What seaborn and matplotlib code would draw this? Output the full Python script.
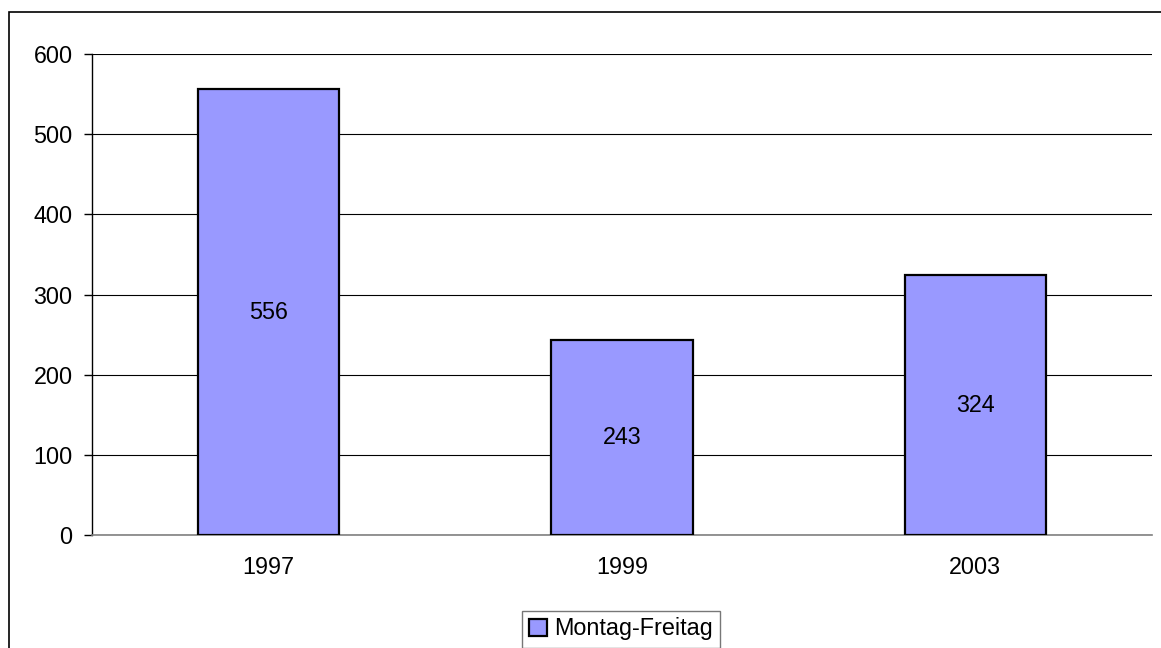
import matplotlib
matplotlib.use("Agg")
import matplotlib.pyplot as plt
import seaborn as sns
import pandas as pd
from matplotlib.patches import Rectangle, Patch

# Daten
jahre = ["1997", "1999", "2003"]
werte = [556, 243, 324]
serie = "Montag-Freitag"

FARBE_BALKEN = "#9999FF"
SCHRIFT = 16.8

sns.set_theme(style="white")
plt.rcParams["font.family"] = ["Liberation Sans", "DejaVu Sans"]
plt.rcParams["text.color"] = "black"
plt.rcParams["xtick.color"] = "black"
plt.rcParams["ytick.color"] = "black"

df = pd.DataFrame({"jahr": jahre, "wert": werte})

fig = plt.figure(figsize=(11.61, 6.48), dpi=100)
ax = fig.add_axes([92 / 1161, 1 - 535 / 648, (1152 - 92) / 1161, (535 - 54) / 648])

sns.barplot(data=df, x="jahr", y="wert", color=FARBE_BALKEN, width=0.4,
            edgecolor="black", linewidth=1.6, saturation=1, ax=ax, zorder=3)

# Werte in der Balkenmitte
for i, w in enumerate(werte):
    ax.text(i, w / 2, str(w), ha="center", va="center", fontsize=SCHRIFT, color="black", zorder=4)

ax.set_ylim(0, 600)
ax.set_xlim(-0.5, len(jahre) - 0.5)
ax.set_yticks(range(0, 601, 100))
ax.yaxis.grid(True, color="black", linewidth=0.8, zorder=0)
ax.set_xlabel("")
ax.set_ylabel("")

# Striche zwischen den Kategorien
ax.set_xticks([i - 0.5 for i in range(len(jahre) + 1)], minor=True)
ax.tick_params(axis="x", which="major", length=0, pad=15, labelsize=SCHRIFT, labelcolor="black")
ax.tick_params(axis="x", which="minor", length=6, width=1, color="#666666", direction="out")
ax.tick_params(axis="y", length=6, width=1, color="black", direction="out", pad=8,
               labelsize=SCHRIFT, labelcolor="black", left=True)

for s in ["top", "right"]:
    ax.spines[s].set_visible(False)
ax.spines["left"].set_color("black")
ax.spines["left"].set_linewidth(1)
ax.spines["bottom"].set_color("#808080")
ax.spines["bottom"].set_linewidth(1.2)

# Legende unten
leg = fig.legend(handles=[Patch(facecolor=FARBE_BALKEN, edgecolor="black", linewidth=1.6, label=serie)],
                 loc="center", bbox_to_anchor=(621 / 1161, 1 - 629 / 648), fontsize=SCHRIFT,
                 frameon=True, fancybox=False, handlelength=0.75, handleheight=0.75,
                 handletextpad=0.3, borderpad=0.3, borderaxespad=0, labelcolor="black")
leg.get_frame().set_edgecolor("#555555")
leg.get_frame().set_linewidth(1)

# Rahmen um das Diagramm
fig.patches.append(Rectangle((9 / 1161, -0.1), 1.2, 1.1 - 12 / 648, transform=fig.transFigure,
                             fill=False, edgecolor="black", linewidth=1.2))

fig.savefig("out.png", dpi=100)
